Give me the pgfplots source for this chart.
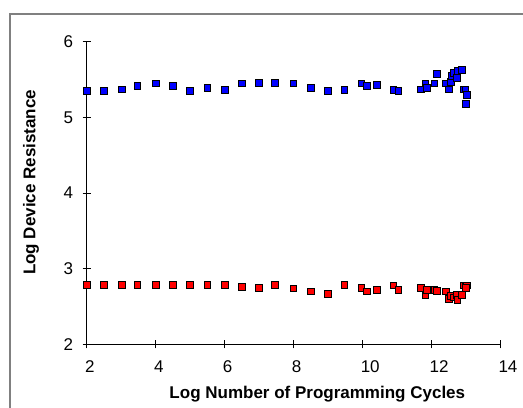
\documentclass[border=0pt]{standalone}
\usepackage{fontspec}
\setmainfont{Liberation Sans}
\usepackage{pgfplots}
\pgfplotsset{compat=1.18}
\begin{document}
\begin{tikzpicture}
\path[use as bounding box] (-86.7bp,-63.7bp) rectangle (436.3bp,344.3bp);
\draw[color={rgb,255:red,128;green,128;blue,128}, line width=1.3bp] (-76.7bp,-80bp) -- (-76.7bp,330.3bp) -- (460bp,330.3bp);
\begin{axis}[
  at={(0,0)}, anchor=south west,
  scale only axis, width=413.3bp, height=302.7bp,
  xmin=2, xmax=14, ymin=2, ymax=6,
  axis lines*=left,
  axis line style={black, line width=0.8bp},
  xtick={2,4,...,14}, ytick={2,3,4,5,6},
  tick align=center, major tick length=8bp,
  tick style={black, line width=0.8bp},
  /pgf/number format/assume math mode=true,
  ticklabel style={font=\fontsize{17bp}{20bp}\selectfont},
  xticklabel style={anchor=north west, xshift=-5bp, yshift=-9bp},
  yticklabel style={xshift=-6bp},
  xlabel={Log Number of Programming Cycles},
  ylabel={Log Device Resistance},
  label style={font=\fontsize{17bp}{20bp}\selectfont\bfseries},
  xlabel style={at={(axis description cs:0.558,-0.164)}, anchor=center},
  ylabel style={at={(axis description cs:-0.1348,0.535)}, anchor=center},
  clip=false,
]
\addplot[only marks, mark=square*, mark size=3.4bp, mark options={fill={rgb,255:red,0;green,0;blue,255}, draw=black, line width=0.6bp}] table {
x y
2.00 5.35
2.50 5.35
3.03 5.37
3.47 5.42
4.00 5.45
4.49 5.42
5.00 5.35
5.50 5.39
6.00 5.36
6.50 5.45
7.00 5.46
7.47 5.46
8.00 5.45
8.50 5.39
9.00 5.35
9.48 5.36
9.97 5.45
10.14 5.42
10.43 5.43
10.90 5.36
11.05 5.35
11.70 5.37
11.83 5.45
11.87 5.39
12.09 5.45
12.16 5.57
12.42 5.45
12.51 5.37
12.57 5.47
12.61 5.55
12.67 5.59
12.74 5.52
12.76 5.61
12.90 5.63
12.94 5.37
12.99 5.37
13.04 5.30
13.00 5.18
};
\addplot[only marks, mark=square*, mark size=3.4bp, mark options={fill={rgb,255:red,255;green,0;blue,0}, draw=black, line width=0.6bp}] table {
x y
2.00 2.79
2.50 2.79
3.03 2.79
3.47 2.79
4.00 2.79
4.49 2.79
5.00 2.79
5.50 2.79
6.00 2.79
6.50 2.76
7.00 2.75
7.47 2.79
8.00 2.74
8.50 2.70
9.00 2.67
9.48 2.79
9.97 2.75
10.14 2.70
10.43 2.72
10.90 2.78
11.05 2.72
11.70 2.75
11.83 2.65
11.87 2.72
12.09 2.72
12.16 2.71
12.42 2.70
12.51 2.60
12.57 2.64
12.67 2.62
12.74 2.65
12.76 2.59
12.90 2.65
12.94 2.78
12.99 2.78
13.04 2.78
13.00 2.75
};
\end{axis}
\end{tikzpicture}
\end{document}
